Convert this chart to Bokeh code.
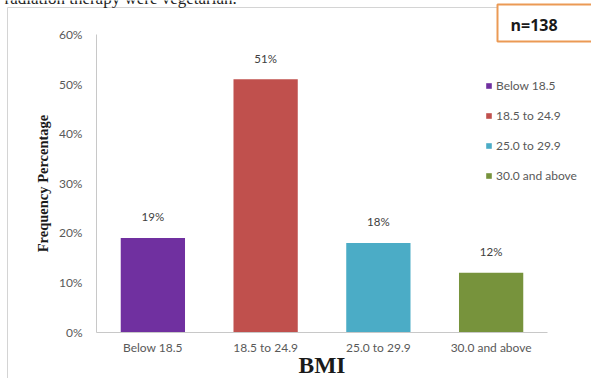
from bokeh.plotting import figure
from bokeh.models import (ColumnDataSource, Range1d, FixedTicker,
                          PrintfTickFormatter, LabelSet, Label, Legend, LegendItem)
from bokeh.core.properties import value
from bokeh.embed import file_html
from bokeh.resources import INLINE

# BMI groups and their share of the 138 patients (percent)
categories = ["Below 18.5", "18.5 to 24.9", "25.0 to 29.9", "30.0 and above"]
percentages = [19, 51, 18, 12]
bar_colors = ["#7030A0", "#C0504D", "#4BACC6", "#77933C"]
y_ticks = [0, 10, 20, 30, 40, 50, 60]
sample_note = "n=138"
caption_line = "radiation therapy were vegetarian."

W, H = 591, 378
# where the plotting area sits on the page (pixels)
AX_LEFT, AX_RIGHT, AX_TOP, AX_BOTTOM = 96, 547, 34, 331.7
Y_MAX = 60
n = len(categories)
px_per_x = (AX_RIGHT - AX_LEFT) / n
px_per_y = (AX_BOTTOM - AX_TOP) / Y_MAX


def data_x(px):
    return (px - AX_LEFT) / px_per_x


def data_y(py):
    return (AX_BOTTOM - py) / px_per_y


positions = [i + 0.5 for i in range(n)]
source = ColumnDataSource(dict(
    pos=positions,
    bmi=categories,
    pct=percentages,
    color=bar_colors,
    label=[f"{v}%" for v in percentages],
))

p = figure(width=W, height=H,
           x_range=Range1d(data_x(0), data_x(W)),
           y_range=Range1d(data_y(H), data_y(0)),
           output_backend="svg", toolbar_location=None,
           min_border_left=0, min_border_right=0,
           min_border_top=0, min_border_bottom=0)
p.background_fill_color = "white"
p.border_fill_color = "white"
p.outline_line_color = None
p.grid.visible = False

tick_font = "Lato"
tick_color = "#595959"
tick_size = "12px"

# chart area border
p.quad(left=data_x(7), right=data_x(W + 20), top=data_y(7), bottom=data_y(H + 20),
       fill_color=None, line_color="#D4D4D4", line_width=1)

bars = p.vbar(x="pos", top="pct", width=0.57, source=source,
              fill_color="color", line_color=None)

# value labels above the bars
p.add_layout(LabelSet(x="pos", y="pct", text="label", source=source,
                      text_align="center", text_baseline="middle", y_offset=21,
                      text_font=value(tick_font), text_font_size="11.5px",
                      text_color="#404040"))

# y axis drawn at x = 0 of the category scale
yax = p.yaxis[0]
yax.fixed_location = 0
yax.bounds = (0, Y_MAX)
yax.ticker = FixedTicker(ticks=y_ticks)
yax.formatter = PrintfTickFormatter(format="%d%%")
yax.major_tick_line_color = None
yax.minor_tick_line_color = None
yax.major_tick_out = 0
yax.major_tick_in = 0
yax.major_label_standoff = 14
yax.major_label_text_font = tick_font
yax.major_label_text_font_size = tick_size
yax.major_label_text_color = tick_color
yax.axis_line_color = "#C8C8C8"
yax.axis_label = "Frequency Percentage"
yax.axis_label_text_font = "Liberation Serif"
yax.axis_label_text_font_style = "bold"
yax.axis_label_text_font_size = "14.5px"
yax.axis_label_text_color = "#1a1a1a"
yax.axis_label_standoff = 5

# x axis drawn at 0 %
xax = p.xaxis[0]
xax.fixed_location = 0
xax.bounds = (0, n)
xax.ticker = FixedTicker(ticks=positions)
xax.major_label_overrides = {pos: c for pos, c in zip(positions, categories)}
xax.major_tick_line_color = None
xax.minor_tick_line_color = None
xax.major_tick_out = 0
xax.major_tick_in = 0
xax.major_label_standoff = 8
xax.major_label_text_font = tick_font
xax.major_label_text_font_size = tick_size
xax.major_label_text_color = tick_color
xax.axis_line_color = "#C8C8C8"
xax.axis_label = "BMI"
xax.axis_label_text_font = "Liberation Serif"
xax.axis_label_text_font_style = "bold"
xax.axis_label_text_font_size = "23.5px"
xax.axis_label_text_color = "#1a1a1a"
xax.axis_label_standoff = -7

# legend on the right
legend = Legend(items=[LegendItem(label=c, renderers=[bars], index=i)
                       for i, c in enumerate(categories)],
                location=(485, 193), orientation="vertical",
                glyph_width=7, glyph_height=7, label_standoff=4,
                label_height=20, spacing=10, padding=0, margin=0,
                border_line_color=None, background_fill_alpha=0,
                label_text_font=tick_font, label_text_font_size=tick_size,
                label_text_color=tick_color)
p.add_layout(legend)

# sample size box
p.quad(left=data_x(497), right=data_x(W + 20), top=data_y(4), bottom=data_y(41),
       fill_color="white", line_color="#EB9A55", line_width=2)
p.add_layout(Label(x=data_x(510), y=data_y(24), text=sample_note,
                   text_font="Open Sans", text_font_style="bold",
                   text_font_size="16px", text_color="#1a1a1a",
                   text_align="left", text_baseline="middle"))

# tail of the paragraph above the chart
p.add_layout(Label(x=data_x(4), y=data_y(-2), text=caption_line,
                   text_font="Liberation Serif", text_font_size="17px",
                   text_color="#222222", text_align="left",
                   text_baseline="alphabetic"))

open("out.html", "w").write(file_html(p, INLINE))
